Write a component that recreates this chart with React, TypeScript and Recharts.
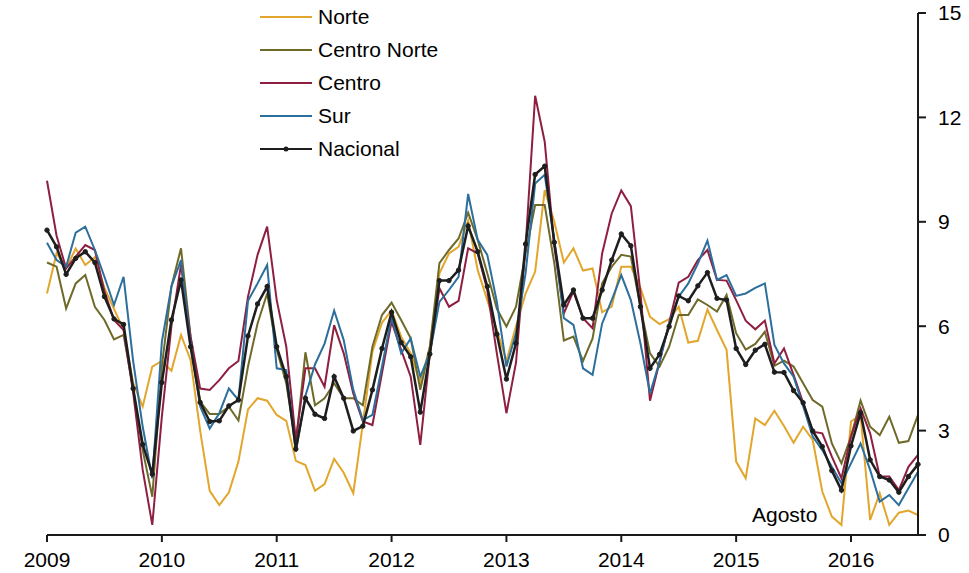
import { LineChart, Line, XAxis, YAxis, Legend } from "recharts";

// Meses: enero 2009 .. agosto 2016
const years = [2009, 2010, 2011, 2012, 2013, 2014, 2015, 2016];
const yTicks = [0, 3, 6, 9, 12, 15];

const norte = [
  6.94, 8.1, 7.67, 8.23, 7.76, 7.98, 7.1, 6.5, 5.9, 4.37, 3.69, 4.84,
  5.0, 4.72, 5.75, 5.03, 3.0, 1.27, 0.86, 1.22, 2.11, 3.61, 3.93, 3.86,
  3.45, 3.28, 2.13, 2.01, 1.27, 1.46, 2.19, 1.79, 1.2, 3.2, 5.27, 6.1,
  6.45, 5.7, 5.22, 4.36, 5.41, 7.52, 8.09, 8.28, 9.03, 7.61, 6.75, 5.89,
  5.0, 6.0, 6.94, 7.57, 9.91, 9.0, 7.83, 8.24, 7.6, 7.66, 6.4, 6.56,
  7.71, 7.71, 7.1, 6.27, 6.06, 6.2, 6.56, 5.53, 5.58, 6.48, 5.89, 5.32,
  2.11, 1.63, 3.35, 3.16, 3.57, 3.13, 2.65, 3.11, 2.73, 1.25, 0.53, 0.29,
  3.26, 3.45, 0.43, 1.2, 0.29, 0.64, 0.7, 0.57,
];

const centroNorte = [
  7.83, 7.71, 6.51, 7.23, 7.47, 6.56, 6.18, 5.62, 5.75, 4.2, 2.44, 1.1,
  4.84, 7.14, 8.24, 5.7, 3.83, 3.48, 3.48, 3.69, 3.29, 4.84, 6.08, 6.94,
  5.32, 4.36, 2.63, 5.25, 3.73, 3.93, 4.36, 3.93, 3.93, 3.73, 5.41, 6.32,
  6.68, 6.18, 5.65, 4.17, 5.41, 7.81, 8.19, 8.52, 9.26, 8.48, 7.52, 6.5,
  5.99, 6.56, 8.09, 9.48, 9.48, 7.81, 5.59, 5.7, 5.0, 5.65, 7.23, 7.71,
  8.05, 8.0, 6.56, 5.22, 4.84, 5.41, 6.32, 6.32, 6.77, 6.61, 6.42, 6.9,
  5.8, 5.33, 5.49, 5.84, 4.86, 5.01, 4.84, 4.36, 3.88, 3.69, 2.63, 2.06,
  2.83, 3.86, 3.11, 2.87, 3.4, 2.65, 2.7, 3.45,
];

const centro = [
  10.18, 8.6, 7.66, 8.0, 8.33, 8.19, 7.0, 6.18, 5.89, 4.1, 1.87, 0.29,
  3.4, 6.0, 7.76, 5.7, 4.21, 4.17, 4.45, 4.79, 5.0, 6.85, 8.05, 8.86,
  6.75, 5.41, 2.73, 4.79, 4.79, 4.26, 6.03, 5.22, 4.07, 3.26, 3.16, 4.65,
  6.13, 5.32, 4.55, 2.59, 5.22, 7.09, 6.56, 6.73, 8.24, 8.09, 7.04, 5.22,
  3.5, 4.95, 8.29, 12.62, 11.3, 8.29, 6.37, 7.0, 6.23, 5.94, 8.09, 9.24,
  9.9, 9.45, 6.95, 3.86, 4.98, 6.1, 7.25, 7.42, 7.9, 8.19, 7.33, 7.31,
  6.75, 6.16, 5.91, 6.16, 4.93, 5.36, 4.6, 3.8, 2.97, 2.92, 2.25, 1.63,
  2.83, 3.64, 2.92, 1.68, 1.68, 1.29, 1.96, 2.3,
];

const sur = [
  8.4, 7.9, 7.71, 8.69, 8.86, 8.19, 7.42, 6.61, 7.42, 5.0, 3.11, 1.63,
  5.55, 7.14, 7.9, 5.51, 3.69, 3.06, 3.5, 4.21, 3.88, 6.73, 7.23, 7.76,
  4.79, 4.74, 2.39, 4.0, 4.9, 5.5, 6.45, 5.6, 4.17, 3.3, 3.45, 4.84,
  6.27, 5.22, 5.65, 4.55, 5.22, 6.7, 7.04, 7.42, 9.8, 8.48, 8.05, 6.7,
  4.84, 5.8, 7.52, 10.1, 10.35, 8.48, 6.23, 6.04, 4.79, 4.6, 6.08, 6.75,
  7.47, 6.75, 5.51, 4.07, 4.98, 6.08, 6.85, 7.23, 7.8, 8.46, 7.33, 7.47,
  6.87, 6.94, 7.1, 7.23, 5.46, 4.93, 4.55, 3.7, 2.83, 2.44, 1.96, 1.49,
  2.06, 2.63, 1.87, 0.96, 1.15, 0.86, 1.34, 1.82,
];

const nacional = [
  8.76, 8.28, 7.49, 7.95, 8.14, 7.83, 6.85, 6.21, 6.05, 4.21, 2.6, 1.75,
  4.38, 6.18, 7.33, 5.41, 3.81, 3.26, 3.28, 3.71, 3.88, 5.72, 6.64, 7.14,
  5.41, 4.55, 2.47, 3.93, 3.47, 3.35, 4.55, 3.93, 2.99, 3.13, 4.17, 5.36,
  6.4, 5.53, 5.12, 3.53, 5.2, 7.31, 7.31, 7.61, 8.88, 8.14, 7.14, 5.77,
  4.48, 5.51, 8.36, 10.36, 10.6, 8.41, 6.61, 7.04, 6.23, 6.23, 7.04, 7.9,
  8.65, 8.31, 6.56, 4.79, 5.19, 5.99, 6.87, 6.73, 7.16, 7.54, 6.8, 6.75,
  5.36, 4.9, 5.31, 5.48, 4.68, 4.67, 4.15, 3.8, 2.99, 2.54, 1.85, 1.29,
  2.56, 3.51, 2.16, 1.68, 1.58, 1.23, 1.68, 2.03,
];

const series = [
  { key: "norte", name: "Norte", color: "#E2A62C", values: norte },
  { key: "centroNorte", name: "Centro Norte", color: "#6E6A2A", values: centroNorte },
  { key: "centro", name: "Centro", color: "#8F1F40", values: centro },
  { key: "sur", name: "Sur", color: "#2C6E9C", values: sur },
  { key: "nacional", name: "Nacional", color: "#1E1E1E", values: nacional },
];

const data = nacional.map((_, i) => {
  const row: Record<string, number> = { i };
  series.forEach((s) => (row[s.key] = s.values[i]));
  return row;
});

const FONT = "Arial, 'Liberation Sans', sans-serif";

const LegendBox = () => (
  <div style={{ fontFamily: FONT, fontSize: 21, color: "#000" }}>
    {series.map((s) => (
      <div key={s.key} style={{ display: "flex", alignItems: "center", height: 33.2 }}>
        <svg width={56} height={10} style={{ marginRight: 4 }}>
          <line x1={2} y1={5} x2={54} y2={5} stroke={s.color} strokeWidth={2} />
          {s.key === "nacional" && <circle cx={28} cy={5} r={2.5} fill={s.color} />}
        </svg>
        <span>{s.name}</span>
      </div>
    ))}
  </div>
);

export default function App() {
  return (
    <div style={{ position: "absolute", left: 0, top: 0, width: 969, height: 573, background: "#fff", fontFamily: FONT }}>
      <LineChart width={969} height={573} data={data} margin={{ top: 13, right: 6, bottom: 8, left: 47 }}>
        <XAxis
          dataKey="i"
          type="number"
          domain={[0, 91]}
          ticks={years.map((_, k) => k * 12)}
          tickFormatter={(v: number) => String(years[v / 12])}
          axisLine={{ stroke: "#1a1a1a", strokeWidth: 2 }}
          tickLine={{ stroke: "#1a1a1a", strokeWidth: 2 }}
          tickSize={7}
          tickMargin={10}
          height={30}
          tick={{ fill: "#000", fontSize: 21, fontFamily: FONT }}
        />
        <YAxis
          orientation="right"
          domain={[0, 15]}
          ticks={yTicks}
          axisLine={{ stroke: "#1a1a1a", strokeWidth: 2 }}
          tickLine={{ stroke: "#1a1a1a", strokeWidth: 2 }}
          tickSize={8}
          tickMargin={12}
          width={45}
          tick={{ fill: "#000", fontSize: 21, fontFamily: FONT }}
        />
        <Legend
          layout="vertical"
          align="center"
          verticalAlign="middle"
          wrapperStyle={{ left: 258, top: 0, width: 220 }}
          content={() => <LegendBox />}
        />
        {series.map((s) => (
          <Line
            key={s.key}
            dataKey={s.key}
            name={s.name}
            stroke={s.color}
            strokeWidth={s.key === "nacional" ? 2.5 : 2}
            dot={s.key === "nacional" ? { r: 2.2, fill: s.color, stroke: s.color, strokeWidth: 1 } : false}
            isAnimationActive={false}
            type="linear"
          />
        ))}
      </LineChart>
      <div style={{ position: "absolute", left: 752, top: 503, fontSize: 21, color: "#000" }}>Agosto</div>
    </div>
  );
}
